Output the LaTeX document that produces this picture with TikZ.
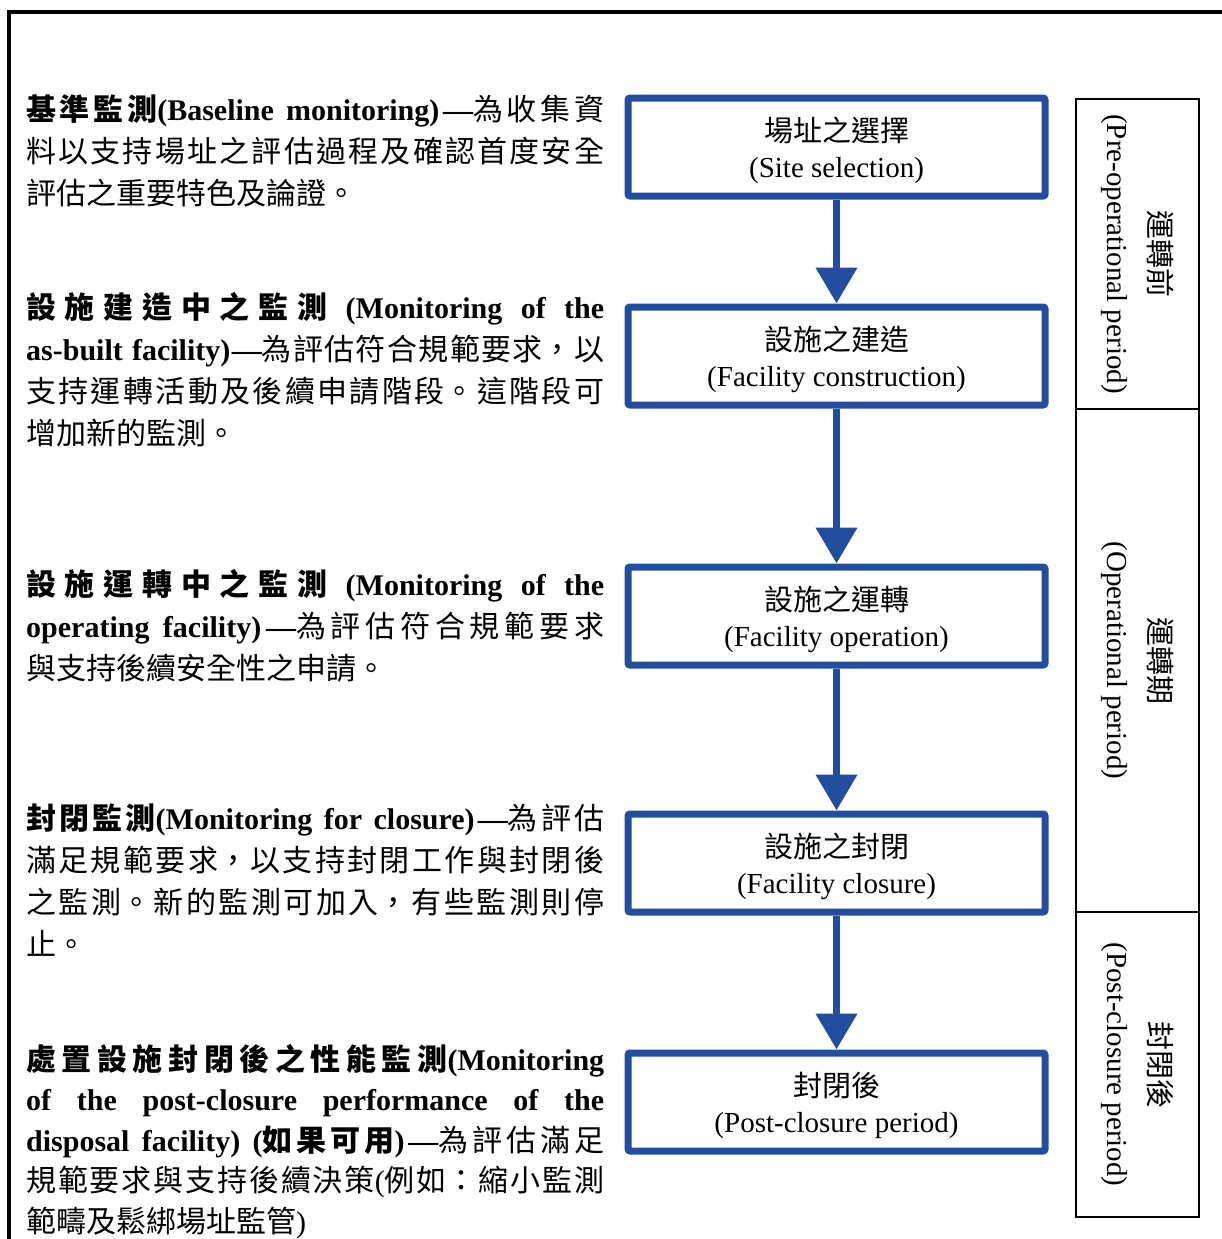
\documentclass[tikz,border=0pt]{standalone}
\usepackage{fontspec}
\setmainfont{Liberation Serif}
\newfontfamily\zhf{Noto Sans CJK TC}
\usetikzlibrary{arrows.meta}
\definecolor{boxblue}{RGB}{35,78,160}
\newcommand\Z[1]{{\zhf #1}}
\newcommand\topstrut{\rule{0pt}{31.5pt}}
\XeTeXlinebreaklocale "zh"
\XeTeXlinebreakskip=0pt plus 3pt
\tolerance=10000
\hyphenpenalty=10000
\exhyphenpenalty=10000
\tikzset{
  stage/.style={draw=boxblue, line width=7pt, rounded corners=2pt,
    minimum width=417pt, minimum height=98pt, inner sep=0pt, align=center,
    font=\fontsize{29}{36}\selectfont},
  phase/.style={draw=black, line width=2pt, rotate=-90, minimum height=123pt,
    inner sep=0pt, align=center, font=\fontsize{29}{42}\selectfont},
  desc/.style={anchor=north west, inner sep=0pt, text width=578pt, align=justify,
    font=\fontsize{30}{42}\selectfont},
  flow/.style={draw=boxblue, line width=7.5pt, -{Triangle[length=36pt,width=40pt]}}
}
\begin{document}
\begin{tikzpicture}[x=1pt,y=-1pt]
\useasboundingbox (0,0) rectangle (1222,1239);
\fill[white] (0,0) rectangle (1222,1239);
% outer frame
\draw[line width=4.5pt] (9,1239) -- (9,12) -- (1222,12);

% stage boxes
\node[stage] (s1) at (836.5,147) {\topstrut\Z{場址之選擇}\\(Site selection)};
\node[stage] (s2) at (836.5,356) {\topstrut\Z{設施之建造}\\(Facility construction)};
\node[stage] (s3) at (836.5,616) {\topstrut\Z{設施之運轉}\\(Facility operation)};
\node[stage] (s4) at (836.5,863) {\topstrut\Z{設施之封閉}\\(Facility closure)};
\node[stage] (s5) at (836.5,1102) {\topstrut\Z{封閉後}\\(Post-closure period)};

\draw[flow] (s1) -- (s2);
\draw[flow] (s2) -- (s3);
\draw[flow] (s3) -- (s4);
\draw[flow] (s4) -- (s5);

% phase boxes
\node[phase, minimum width=310pt] (p1) at (1137.5,254) {\Z{運轉前}\\(Pre-operational period)};
\node[phase, minimum width=503pt] (p2) at (1137.5,660.5) {\Z{運轉期}\\(Operational period)};
\node[phase, minimum width=305pt] (p3) at (1137.5,1064.5) {\Z{封閉後}\\(Post-closure period)};

% descriptions
\node[desc] (d1) at (26,94) {\textbf{\Z{基準監測}(Baseline monitoring)—}\Z{為收集資}\linebreak
\Z{料以支持場址之評估過程及確認首度安全}\linebreak
\Z{評估之重要特色及論證。}};

\node[desc] (d2) at (26,292) {\textbf{\Z{設施建造中之監測} (Monitoring of the}\linebreak
\textbf{as-built facility)—}\Z{為評估符合規範要求，以}\linebreak
\Z{支持運轉活動及後續申請階段。這階段可}\linebreak
\Z{增加新的監測。}};

\node[desc] (d3) at (26,569) {\textbf{\Z{設施運轉中之監測} (Monitoring of the}\linebreak
\textbf{operating facility)—}\Z{為評估符合規範要求}\linebreak
\Z{與支持後續安全性之申請。}};

\node[desc] (d4) at (26,804) {\textbf{\Z{封閉監測}(Monitoring for closure)—}\Z{為評估}\linebreak
\Z{滿足規範要求，以支持封閉工作與封閉後}\linebreak
\Z{之監測。新的監測可加入，有些監測則停}\linebreak
\Z{止。}};

\node[desc, font=\fontsize{30}{40.5}\selectfont] (d5) at (26,1044) {\textbf{\Z{處置設施封閉後之性能監測}(Monitoring}\linebreak
\textbf{of the post-closure performance of the}\linebreak
\textbf{disposal facility) (\Z{如果可用})—}\Z{為評估滿足}\linebreak
\Z{規範要求與支持後續決策}(\Z{例如：縮小監測}\linebreak
\Z{範疇及鬆綁場址監管})};
\end{tikzpicture}
\end{document}
